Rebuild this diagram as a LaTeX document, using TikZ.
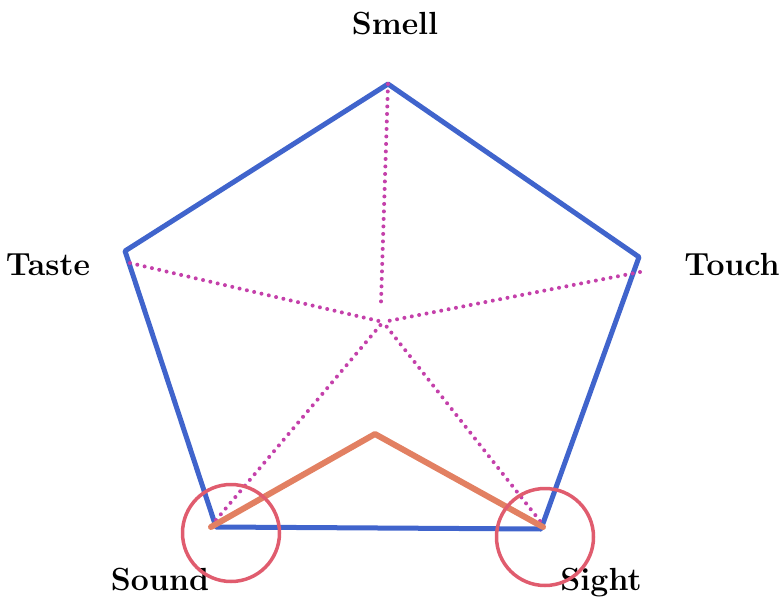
\documentclass[tikz,border=0pt]{standalone}
\usepackage{tikz}
\usetikzlibrary{positioning}
\definecolor{rimblue}{RGB}{64,100,204}
\definecolor{spokepink}{RGB}{196,64,170}
\definecolor{peakorange}{RGB}{226,128,98}
\definecolor{ringred}{RGB}{224,92,110}
\begin{document}
\begin{tikzpicture}[x=1pt, y=-1pt,
	sense/.style={font=\fontsize{32}{34}\selectfont\bfseries, anchor=base, inner sep=0pt},
	rim/.style={rimblue, line width=5pt, line join=round},
	spoke/.style={spokepink, line width=4pt, line cap=round, dash pattern=on 0pt off 7.5pt},
	peak/.style={peakorange, line width=6pt, line cap=round, line join=round},
	ring/.style={circle, draw=ringred, line width=3.5pt, inner sep=0pt, minimum size=97pt}
	]
	\useasboundingbox (0,0) rectangle (784,599);
	% corners of the pentagon
	\coordinate (smellc) at (388,84);
	\coordinate (touchc) at (639,257);
	\coordinate (sightc) at (541,529);
	\coordinate (soundc) at (216,527);
	\coordinate (tastec) at (125,251);
	\coordinate (mid) at (383,322);
	\coordinate (midtop) at (381,302);
	\coordinate (tastee) at (130,263);
	\coordinate (touche) at (640,272);
	\coordinate (sounde) at (216,520);
	\coordinate (sighte) at (540,521);
	% labels
	\node[sense] (smell) at (395,35) {Smell};
	\node[sense] (taste) at (48,275) {Taste};
	\node[sense] (touch) at (732,275) {Touch};
	\node[sense] (sound) at (160,590) {Sound};
	\node[sense] (sight) at (601,590) {Sight};
	% outline
	\draw[rim] (smellc) -- (touchc) -- (sightc) -- (soundc) -- (tastec) -- cycle;
	% dotted spokes to the middle
	\draw[spoke] (smellc) -- (midtop);
	\draw[spoke] (tastee) -- (mid);
	\draw[spoke] (touche) -- (mid);
	\draw[spoke] (sounde) -- (mid);
	\draw[spoke] (sighte) -- (mid);
	% orange peak
	\coordinate (peakl) at (211,527);
	\coordinate (peakt) at (375,434);
	\coordinate (peakr) at (543,527);
	\draw[peak] (peakl) -- (peakt) -- (peakr);
	% circles round the bottom corners
	\node[ring] (soundring) at (231,533) {};
	\node[ring] (sightring) at (545,537) {};
\end{tikzpicture}
\end{document}
